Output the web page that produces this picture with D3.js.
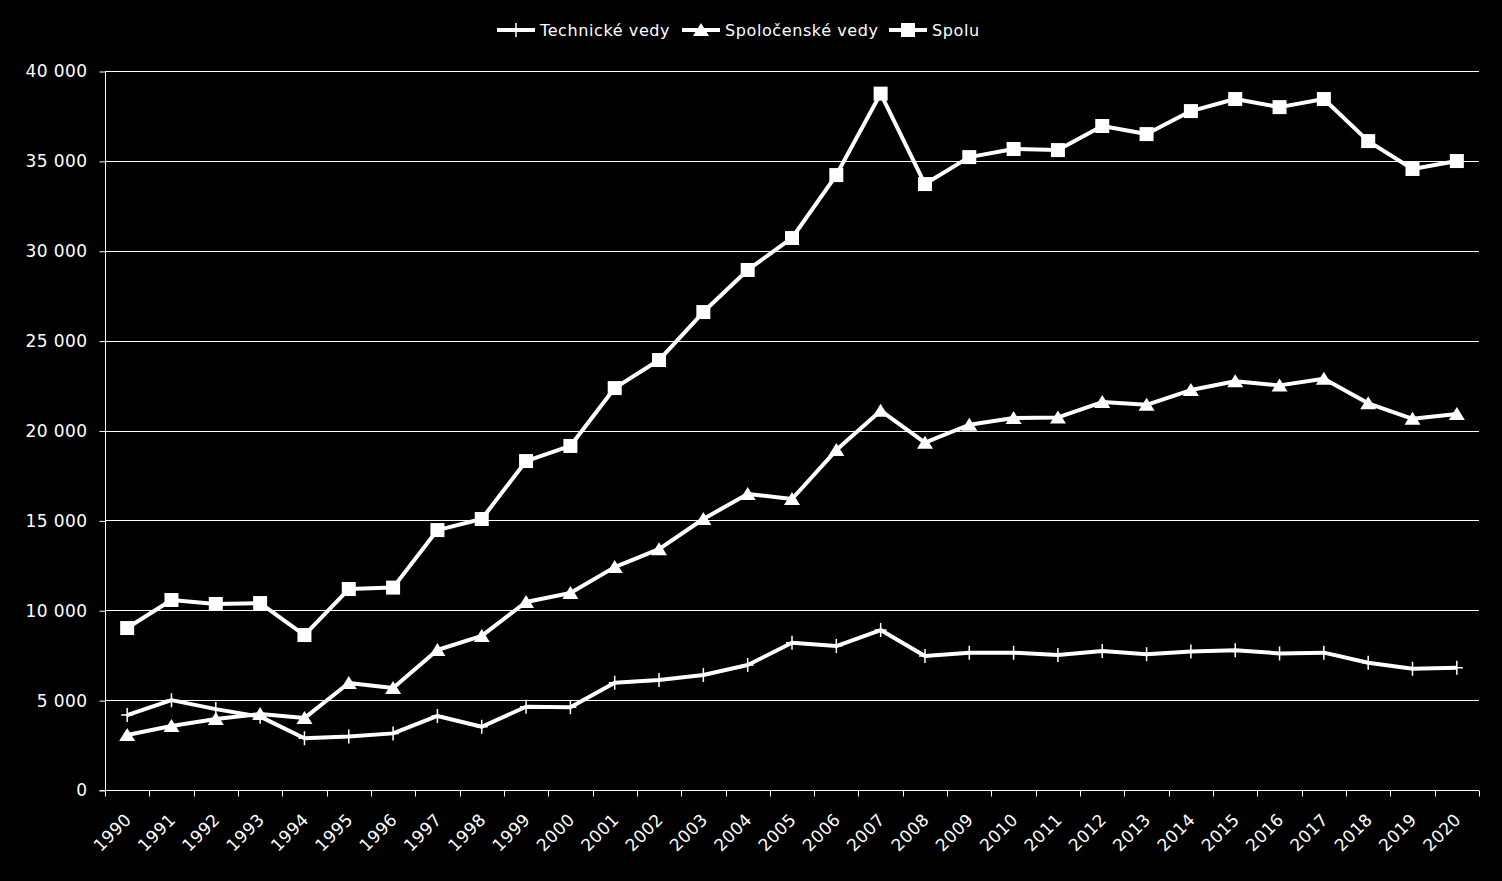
<!DOCTYPE html>
<html><head><meta charset="utf-8">
<script src="https://cdn.jsdelivr.net/npm/d3@7"></script>
<style>
html,body{margin:0;padding:0;background:#000;}
svg{display:block;}
text{font-family:"DejaVu Sans",sans-serif;fill:#fff;}
</style></head>
<body>
<svg id="chart" width="1502" height="881"></svg>
<script>
const years = ["1990","1991","1992","1993","1994","1995","1996","1997","1998","1999","2000","2001","2002","2003","2004","2005","2006","2007","2008","2009","2010","2011","2012","2013","2014","2015","2016","2017","2018","2019","2020"];
const technicke = [4170,5000,4500,4080,2880,2970,3150,4120,3520,4630,4600,5970,6120,6400,6950,8190,8010,8900,7450,7640,7640,7510,7730,7550,7710,7770,7600,7640,7080,6750,6800];
const spolocenske = [3060,3560,3950,4230,4000,5950,5670,7790,8570,10460,10960,12400,13400,15075,16470,16190,18910,21100,19320,20320,20690,20730,21580,21430,22250,22740,22510,22880,21510,20650,20920];
const spolu = [9010,10570,10350,10400,8620,11180,11260,14460,15075,18300,19140,22360,23920,26590,28930,30710,34210,38740,33710,35210,35660,35600,36940,36490,37770,38440,37990,38440,36100,34550,34990];
const yTicks = [0,5000,10000,15000,20000,25000,30000,35000,40000];
const seriesNames = ["Technické vedy","Spoločenské vedy","Spolu"];

const svg = d3.select("#chart");
const m = {left:105, right:1479, top:71, bottom:790};
const x = d3.scaleBand().domain(years).range([m.left, m.right]);
const y = d3.scaleLinear().domain([0,40000]).range([m.bottom, m.top]);
const fmt = v => d3.format(",")(v).replace(/,/g, " ");

// grid
svg.append("g").selectAll("line").data(yTicks.filter(d=>d>0)).join("line")
  .attr("x1", m.left).attr("x2", m.right)
  .attr("y1", d=>Math.round(y(d))+0.5).attr("y2", d=>Math.round(y(d))+0.5)
  .attr("stroke","#fff").attr("stroke-width",1);

// y axis
const yAxis = svg.append("g").attr("transform",`translate(${m.left+0.5},0.5)`)
  .call(d3.axisLeft(y).tickValues(yTicks).tickFormat(d=>d===0?"0":fmt(d)).tickSize(6).tickPadding(12));
yAxis.selectAll("path,line").attr("stroke","#fff");
yAxis.select(".domain").attr("d",`M-6,${m.bottom}H0V${m.top}`);
yAxis.selectAll("text").attr("font-size","17px").attr("fill","#fff")
  .attr("font-family","DejaVu Sans").attr("letter-spacing","0.4px");

// x axis
const xAxis = svg.append("g").attr("transform",`translate(0,${m.bottom+0.5})`)
  .call(d3.axisBottom(x).tickSize(0).tickFormat(d=>d));
xAxis.select(".domain").attr("stroke","#fff").attr("d",`M${m.left},0H${m.right}`);
const bounds = years.map(d=>x(d)).concat([m.right]);
xAxis.append("g").selectAll("line").data(bounds).join("line")
  .attr("x1",d=>Math.round(d)+0.5).attr("x2",d=>Math.round(d)+0.5)
  .attr("y1",0).attr("y2",6).attr("stroke","#fff");
xAxis.selectAll(".tick text")
  .attr("font-size","17px").attr("fill","#fff").attr("font-family","DejaVu Sans")
  .attr("letter-spacing","0.4px")
  .attr("text-anchor","end").attr("y",0).attr("x",0).attr("dy","0.35em")
  .attr("transform",`translate(1,26) rotate(-45)`);

const cx = d => x(d)+x.bandwidth()/2;
const line = d3.line().x((d,i)=>cx(years[i])).y(d=>y(d));

const data = [technicke, spolocenske, spolu];
const lw = 4;
data.forEach((vals, k) => {
  svg.append("path").datum(vals).attr("d", line)
    .attr("fill","none").attr("stroke","#fff").attr("stroke-width",lw).attr("stroke-linejoin","round");
});

function drawMarker(g, type, px, py){
  if(type===0){
    g.append("path").attr("d",`M${px-6},${py}H${px+6}M${px},${py-7}V${py+7}`)
     .attr("stroke","#fff").attr("stroke-width",1.5).attr("fill","none");
  } else if(type===1){
    g.append("path").attr("d",`M${px},${py-7}L${px+8},${py+6}L${px-8},${py+6}Z`).attr("fill","#fff");
  } else {
    g.append("rect").attr("x",px-7).attr("y",py-7).attr("width",14).attr("height",14).attr("fill","#fff");
  }
}
const mg = svg.append("g");
data.forEach((vals,k)=>{
  vals.forEach((v,i)=>drawMarker(mg,k,cx(years[i]),y(v)));
});

// legend
const legendX = [497, 682, 889];
const lg = svg.append("g");
seriesNames.forEach((n,k)=>{
  const lx = legendX[k], ly = 30;
  lg.append("line").attr("x1",lx).attr("x2",lx+38).attr("y1",ly).attr("y2",ly)
    .attr("stroke","#fff").attr("stroke-width",lw);
  drawMarker(lg,k,lx+19,ly);
  lg.append("text").attr("x",lx+43).attr("y",ly).attr("dy","0.35em")
    .attr("font-size","16px").attr("letter-spacing","0.6px").text(n);
});
</script>
</body></html>
